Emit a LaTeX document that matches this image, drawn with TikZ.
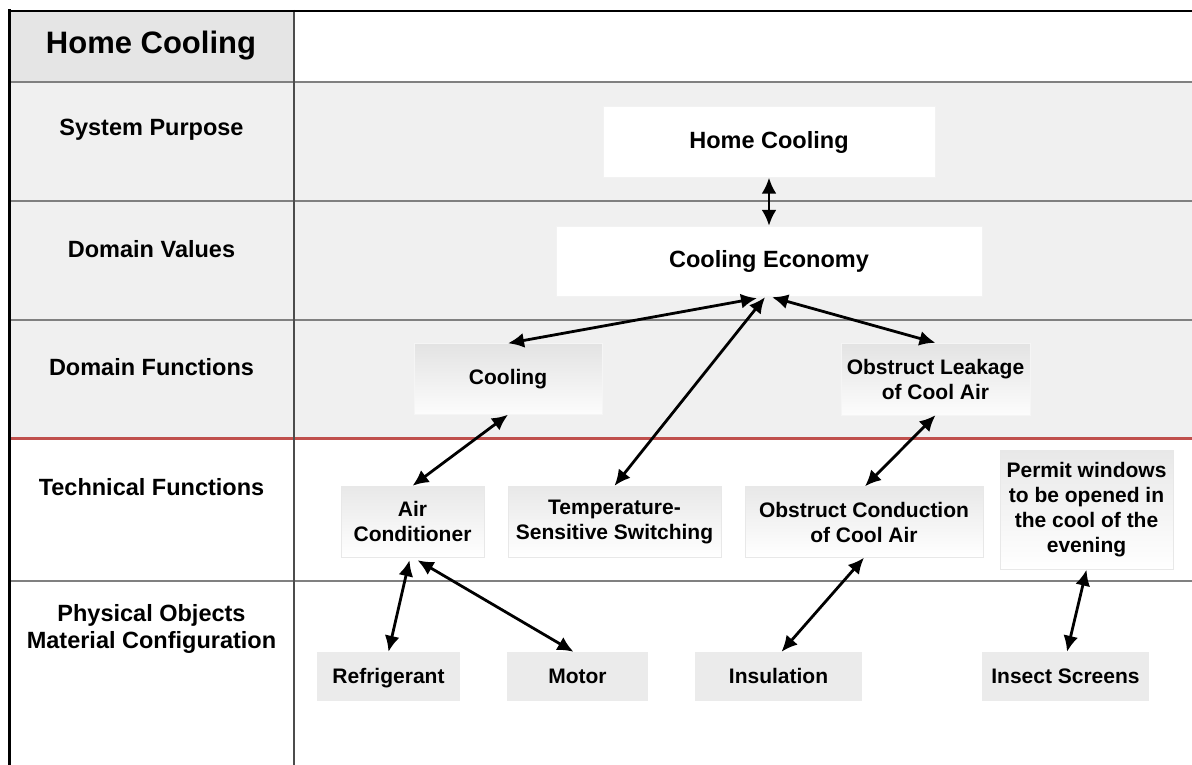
\documentclass[tikz,border=0pt]{standalone}
\usepackage{fontspec}
\setmainfont{Liberation Sans}
\usetikzlibrary{arrows.meta}
\definecolor{bandgray}{HTML}{F0F0F0}
\definecolor{headgray}{HTML}{E5E5E5}
\definecolor{boxgray}{HTML}{EBEBEB}
\definecolor{redline}{HTML}{C0504D}
\begin{document}
\begin{tikzpicture}[x=1pt, y=-1pt, >={Latex[length=16pt,width=15pt]},
  lbl/.style={font=\bfseries\fontsize{23.5}{26.5}\selectfont, align=center, inner sep=0pt},
  valbox/.style={lbl, fill=white, draw=black!5},
  boxtxt/.style={font=\bfseries\fontsize{21}{25}\selectfont, align=center, inner sep=0pt},
  funbox/.style={boxtxt, top color=black!11, bottom color=black!1, draw=black!4},
  techbox/.style={boxtxt, top color=black!9, bottom color=white, draw=black!9},
  objbox/.style={boxtxt, fill=boxgray, text height=17pt, text depth=3pt},
  link/.style={<->, line width=2.8pt}]
\useasboundingbox (0,0) rectangle (1192,765);
\fill[white] (0,0) rectangle (1192,765);
\fill[headgray] (9,10) rectangle (294,82);
\fill[bandgray] (9,82) rectangle (1192,438);
\draw[black!50, line width=1.2pt] (9,82)--(1192,82) (9,201)--(1192,201) (9,320)--(1192,320) (9,581)--(1192,581);
\draw[redline, line width=3pt] (9,438)--(1192,438);
\draw[black!70, line width=1.3pt] (294,10)--(294,765);
\draw[line width=3pt] (9.5,9.5)--(9.5,765);
\draw[line width=2.5pt] (8,11)--(1192,11);
\node[lbl, font=\bfseries\fontsize{31}{36}\selectfont] (title) at (151,46) {Home Cooling};
\node[lbl] (lpurpose) at (151.5,130) {System Purpose};
\node[lbl] (lvalues) at (151.5,249) {Domain Values};
\node[lbl] (lfunctions) at (151.5,367) {Domain Functions};
\node[lbl] (ltechnical) at (151.5,487) {Technical Functions};
\node[lbl] (lphysical) at (151.5,629) {Physical Objects\\Material Configuration};
\node[valbox, minimum width=332, minimum height=71] (home) at (769,142) {Home Cooling};
\node[valbox, minimum width=426, minimum height=70] (econ) at (769,261) {Cooling Economy};
\node[funbox, minimum width=188, minimum height=71] (cool) at (508,379) {Cooling};
\node[funbox, minimum width=189, minimum height=72] (leak) at (935.5,379) {Obstruct Leakage\\of Cool Air};
\node[techbox, minimum width=143, minimum height=71] (air) at (412.5,521.5) {Air\\Conditioner};
\node[techbox, minimum width=213, minimum height=71] (temp) at (614.5,521.5) {Temperature-\\Sensitive Switching};
\node[techbox, minimum width=238, minimum height=71] (cond) at (864,522) {Obstruct Conduction\\of Cool Air};
\node[techbox, minimum width=173, minimum height=119] (permit) at (1086.5,510) {Permit windows\\to be opened in\\the cool of the\\evening};
\node[objbox, minimum width=143, minimum height=49] (refr) at (388.5,676.5) {Refrigerant};
\node[objbox, minimum width=141, minimum height=49] (motor) at (577.5,676.5) {Motor};
\node[objbox, minimum width=167, minimum height=49] (insul) at (778.5,676.5) {Insulation};
\node[objbox, minimum width=167, minimum height=49] (insect) at (1065.5,676.5) {Insect Screens};
\draw[link] (home.south)--(econ.north);
\draw[link] ([xshift=-12pt,yshift=-2pt]econ.south)--(cool.north);
\draw[link] ([xshift=-4pt,yshift=-1pt]econ.south)--(temp.north);
\draw[link] ([xshift=3pt,yshift=-1pt]econ.south)--(leak.north);
\draw[link] (cool.south)--(air.north);
\draw[link] (leak.south)--([xshift=1pt]cond.north);
\draw[link] ([xshift=-3pt,yshift=-3pt]air.south)--(refr.north);
\draw[link] ([xshift=5pt,yshift=-3pt]air.south)--([xshift=-4pt]motor.north);
\draw[link] (cond.south)--([xshift=3pt]insul.north);
\draw[link] (permit.south)--([xshift=1.5pt]insect.north);
\end{tikzpicture}
\end{document}
